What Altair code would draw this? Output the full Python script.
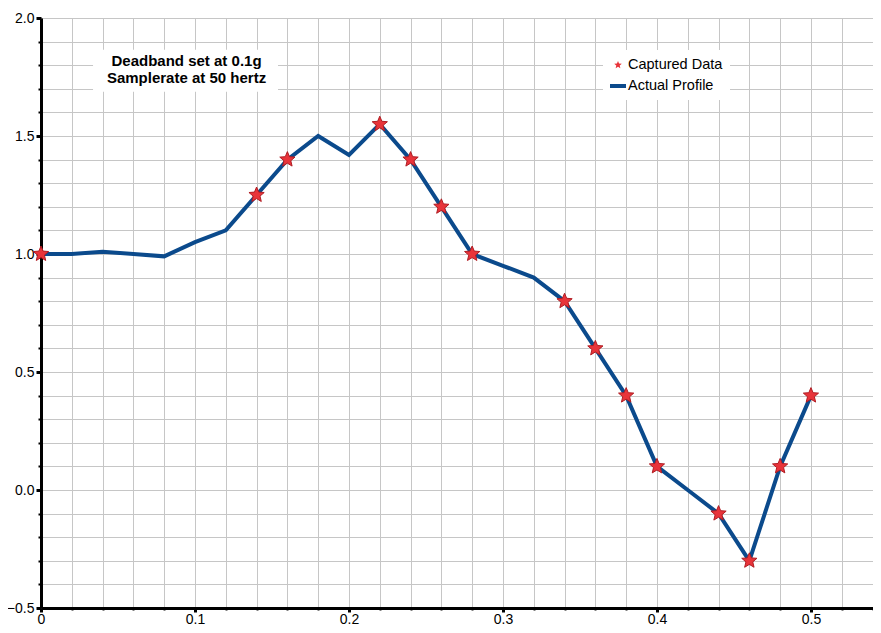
import altair as alt
import pandas as pd

# Actual profile (line)
profile_x = [0.00, 0.02, 0.04, 0.06, 0.08, 0.10, 0.12, 0.14, 0.16, 0.18, 0.20, 0.22, 0.24,
             0.26, 0.28, 0.30, 0.32, 0.34, 0.36, 0.38, 0.40, 0.42, 0.44, 0.46, 0.48, 0.50]
profile_y = [1.00, 1.00, 1.01, 1.00, 0.99, 1.05, 1.10, 1.25, 1.40, 1.50, 1.42, 1.55, 1.40,
             1.20, 1.00, 0.95, 0.90, 0.80, 0.60, 0.40, 0.10, 0.00, -0.10, -0.30, 0.10, 0.40]

# Captured data (stars)
captured_x = [0.00, 0.14, 0.16, 0.22, 0.24, 0.26, 0.28, 0.34, 0.36, 0.38, 0.40, 0.44, 0.46, 0.48, 0.50]
captured_y = [1.00, 1.25, 1.40, 1.55, 1.40, 1.20, 1.00, 0.80, 0.60, 0.40, 0.10, -0.10, -0.30, 0.10, 0.40]

series = ["Captured Data", "Actual Profile"]
note_lines = ["Deadband set at 0.1g", "Samplerate at 50 hertz"]
note_x = [0.0945]
note_y = [1.816]
note_box_x = [0.0338]
note_box_x2 = [0.1539]
note_box_y = [1.687]
note_box_y2 = [1.865]

x_grid = [round(i * 0.02, 2) for i in range(28)]
y_grid = [round(-0.5 + i * 0.1, 1) for i in range(26)]

STAR = ("M0,-0.5L0.132,-0.182L0.476,-0.155L0.214,0.07L0.294,0.405L0,0.225"
        "L-0.294,0.405L-0.214,0.07L-0.476,-0.155L-0.132,-0.182Z")
BAR = "M-1,-0.25L1,-0.25L1,0.25L-1,0.25Z"

RED = "#e8343a"
BLUE = "#0b4a8c"
FONT = "Liberation Sans"

line_df = pd.DataFrame({"x": profile_x, "y": profile_y, "series": series[1]})
pts_df = pd.DataFrame({"x": captured_x, "y": captured_y, "series": series[0]})
note_df = pd.DataFrame({"x": note_x, "y": note_y, "text": [note_lines]})
box_df = pd.DataFrame({"x": note_box_x, "x2": note_box_x2, "y": note_box_y, "y2": note_box_y2})

xscale = alt.Scale(domain=[0, 0.5403], nice=False, zero=False)
yscale = alt.Scale(domain=[-0.5, 2.0], nice=False, zero=False)

xmajor = "abs(datum.value*10 - round(datum.value*10)) < 0.001"
ymajor = "abs(datum.value*2 - round(datum.value*2)) < 0.001"

xaxis = alt.Axis(
    values=x_grid, tickCount=60, grid=True, gridColor="#c6c6c6", gridWidth=1,
    domainColor="black", domainWidth=3,
    tickColor="black",
    tickSize={"condition": {"test": xmajor, "value": 4}, "value": 2},
    tickWidth={"condition": {"test": xmajor, "value": 3}, "value": 2},
    labelExpr=f"{xmajor} ? (datum.value == 0 ? '0' : format(datum.value, '.1f')) : ''",
    labelFont=FONT, labelFontSize=14, labelColor="black", labelPadding=0,
    labelFlush=False, labelOverlap=False, title=None,
)
yaxis = alt.Axis(
    values=y_grid, tickCount=60, grid=True, gridColor="#c6c6c6", gridWidth=1,
    domainColor="black", domainWidth=3,
    tickColor="black",
    tickSize={"condition": {"test": ymajor, "value": 5}, "value": 3},
    tickWidth={"condition": {"test": ymajor, "value": 3}, "value": 2},
    labelExpr=f"{ymajor} ? format(datum.value, '.1f') : ''",
    labelFont=FONT, labelFontSize=14, labelColor="black", labelPadding=2,
    labelFlush=False, labelOverlap=False, title=None,
)

box = alt.Chart(box_df).mark_rect(color="white").encode(
    x=alt.X("x:Q", scale=xscale, axis=xaxis),
    x2="x2:Q",
    y=alt.Y("y:Q", scale=yscale, axis=yaxis),
    y2="y2:Q",
)

note = alt.Chart(note_df).mark_text(
    font=FONT, fontSize=15, fontWeight="bold", color="black", lineHeight=17, align="center", baseline="middle"
).encode(x=alt.X("x:Q", scale=xscale), y=alt.Y("y:Q", scale=yscale), text="text")

line = alt.Chart(line_df).mark_line(color=BLUE, strokeWidth=4).encode(
    x=alt.X("x:Q", scale=xscale), y=alt.Y("y:Q", scale=yscale)
)

color_scale = alt.Scale(domain=series, range=[RED, BLUE])
shape_scale = alt.Scale(domain=series, range=[STAR, BAR])
legend = alt.Legend(
    title=None, orient="none", legendX=562, legendY=32,
    fillColor="white", padding=7, symbolSize=256, symbolStrokeWidth=0,
    labelFont=FONT, labelFontSize=14.5, labelColor="black", rowPadding=6, labelOffset=2,
)

pts = alt.Chart(pts_df).mark_point(
    filled=True, size=1024, stroke="#b01c22", strokeWidth=1, opacity=1, fillOpacity=1
).encode(
    x=alt.X("x:Q", scale=xscale), y=alt.Y("y:Q", scale=yscale),
    color=alt.Color("series:N", scale=color_scale, legend=legend),
    shape=alt.Shape("series:N", scale=shape_scale, legend=legend),
)

chart = alt.layer(box, note, line, pts).properties(
    width=832, height=590,
    autosize=alt.AutoSizeParams(type="none"),
    padding={"left": 33, "top": 10, "right": 0, "bottom": 17},
).configure_view(stroke=None).configure(background="white").configure_axis(labelOverlap=False)

chart.save("out.html", embed_options={"renderer": "svg", "actions": False})
